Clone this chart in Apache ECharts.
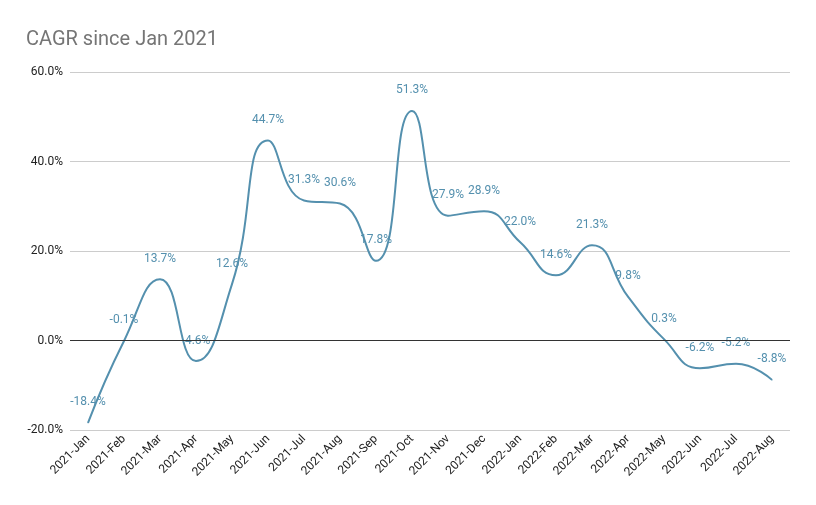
<!DOCTYPE html>
<html><head><meta charset="utf-8">
<script src="https://cdn.jsdelivr.net/npm/echarts@6/dist/echarts.min.js"></script>
<style>html,body{margin:0;padding:0;background:#fff}#c{width:816px;height:505px}</style>
</head><body><div id="c"></div>
<script>
const categories = ["2021-Jan","2021-Feb","2021-Mar","2021-Apr","2021-May","2021-Jun","2021-Jul","2021-Aug","2021-Sep","2021-Oct","2021-Nov","2021-Dec","2022-Jan","2022-Feb","2022-Mar","2022-Apr","2022-May","2022-Jun","2022-Jul","2022-Aug"];
const cagr = [-18.4,-0.1,13.7,-4.6,12.6,44.7,31.3,30.6,17.8,51.3,27.9,28.9,22.0,14.6,21.3,9.8,0.3,-6.2,-5.2,-8.8];
const yTicks = [-20, 0, 20, 40, 60];

const chart = echarts.init(document.getElementById('c'));
const lineColor = '#5490ae';
chart.setOption({
  animation: false,
  title: {text: 'CAGR since Jan 2021', left: 21, top: 25,
    textStyle: {fontFamily: 'Roboto', fontSize: 20, fontWeight: 'normal', color: '#757575'}},
  grid: {left: 70, right: 26, top: 72, bottom: 75, containLabel: false},
  xAxis: {type: 'category', data: categories, boundaryGap: true,
    axisLine: {show: false}, axisTick: {show: false},
    axisLabel: {rotate: 45, interval: 0, fontFamily: 'Roboto', fontSize: 12, color: '#222', margin: 7}},
  yAxis: {type: 'value', min: yTicks[0], max: yTicks[yTicks.length-1], interval: 20,
    axisLine: {show: false}, axisTick: {show: false},
    splitLine: {lineStyle: {color: '#cccccc', width: 1}},
    axisLabel: {formatter: v => v.toFixed(1) + '%', fontFamily: 'Roboto', fontSize: 12, color: '#222', margin: 7}},
  series: [{
    type: 'line', data: cagr, smooth: 0.5,
    symbol: 'circle', symbolSize: 1, showSymbol: true,
    itemStyle: {color: lineColor},
    lineStyle: {color: lineColor, width: 2},
    label: {show: true, position: 'top', distance: 14, formatter: p => p.value.toFixed(1) + '%',
      fontFamily: 'Roboto', fontSize: 12, color: lineColor},
    markLine: {silent: true, symbol: 'none', label: {show: false},
      lineStyle: {color: '#333', width: 1, type: 'solid'}, data: [{yAxis: 0}]},
    z: 3
  }]
});
</script></body></html>
